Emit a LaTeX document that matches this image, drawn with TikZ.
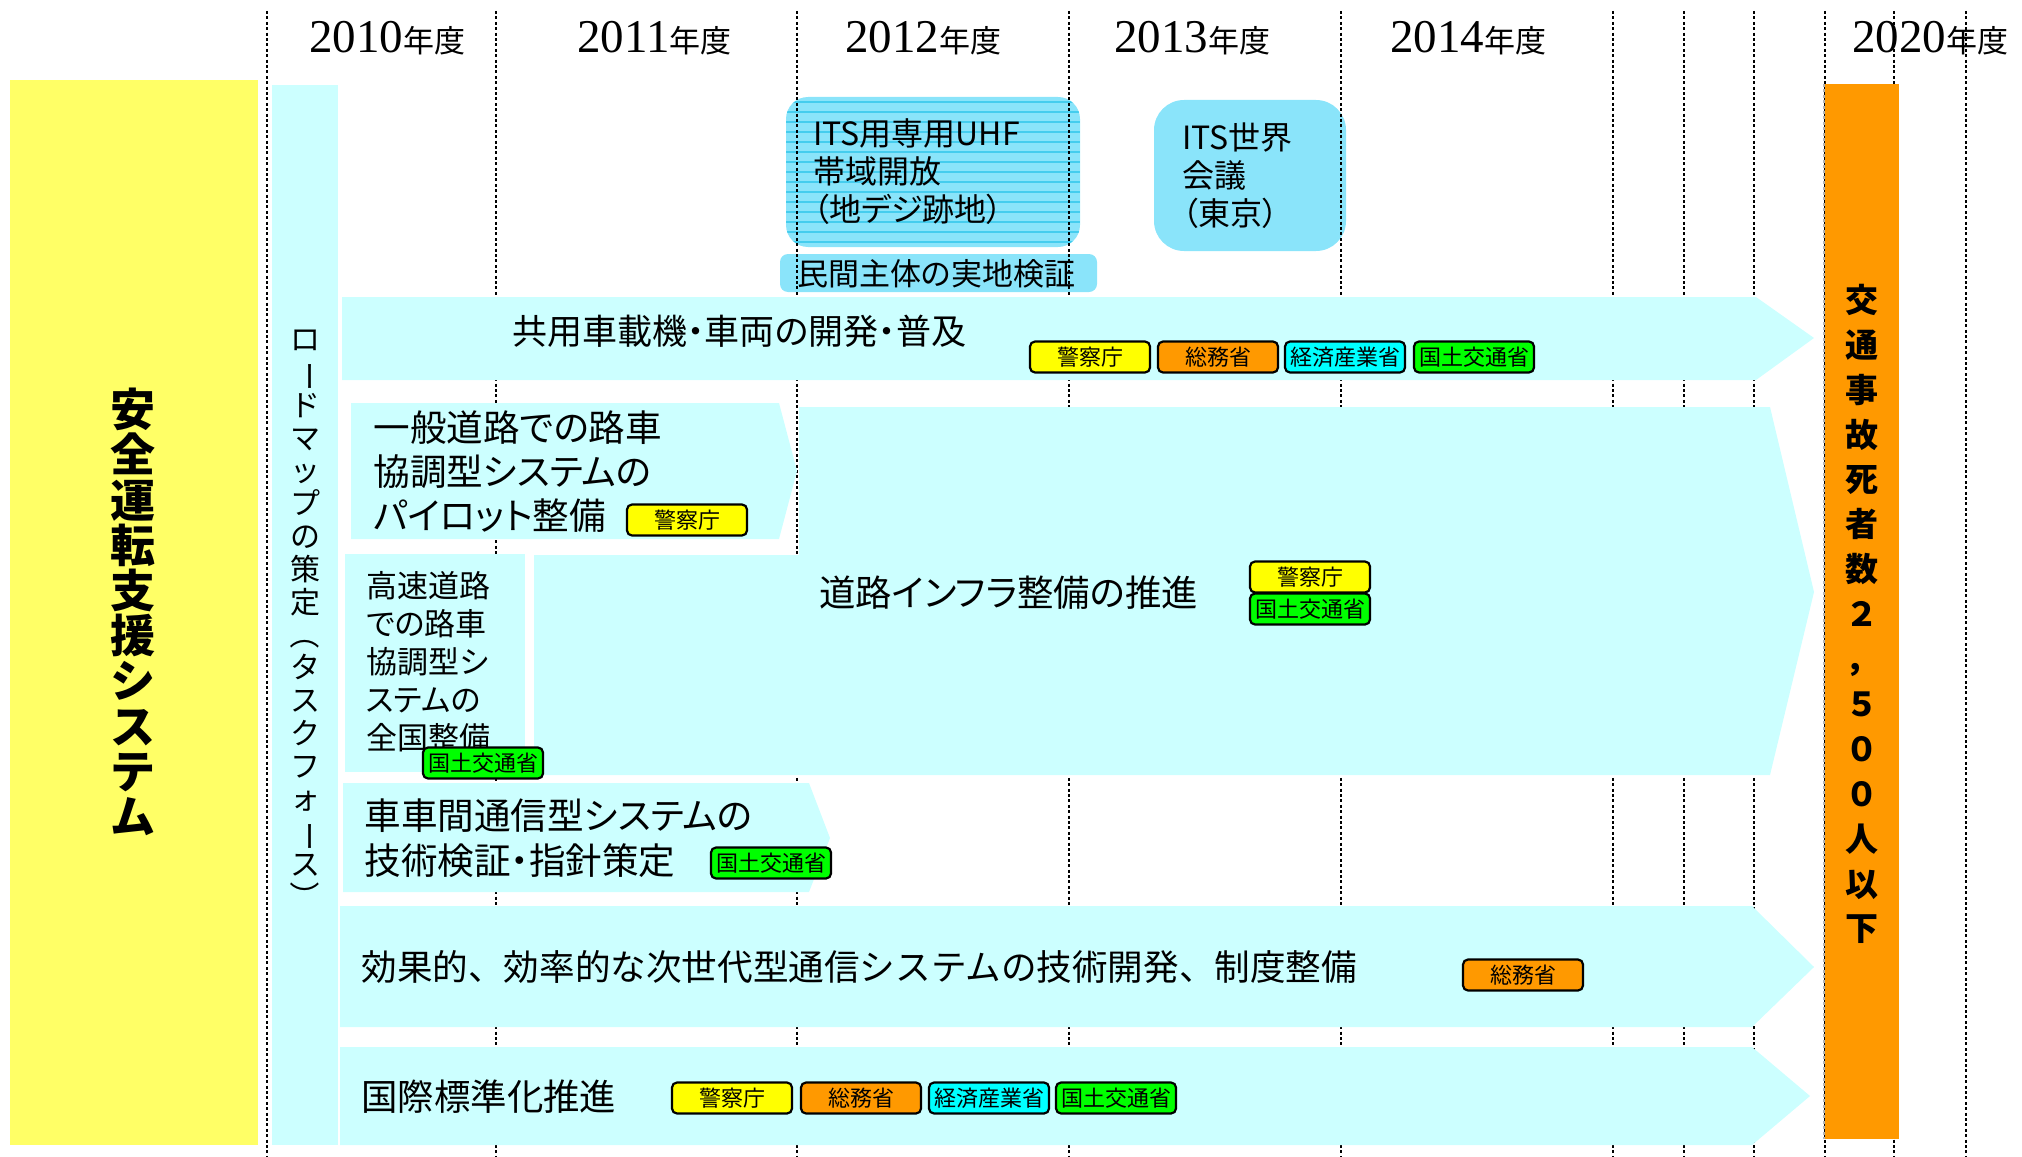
\documentclass[tikz,border=0pt]{standalone}
\usepackage{fontspec}
\usepackage{graphicx}
\setmainfont[RawFeature=+palt]{Noto Sans CJK JP}
\newfontfamily\jpv{Noto Sans CJK JP}
\newfontfamily\serifyr{Liberation Serif}
\definecolor{lyel}{HTML}{FFFF66}
\definecolor{lcyan}{HTML}{CCFFFF}
\definecolor{orng}{HTML}{FF9900}
\definecolor{skyb}{HTML}{8AE4FA}
\definecolor{stripec}{HTML}{45CDEE}
\definecolor{tagy}{HTML}{FFFF00}
\definecolor{tago}{HTML}{FF9900}
\definecolor{tagc}{HTML}{00FFFF}
\definecolor{tagg}{HTML}{00FF00}
\newcommand\yearlabel[1]{{\serifyr\fontsize{23.5}{24}\selectfont #1}{\fontsize{15.5}{16}\selectfont 年度}}
\newcommand\vbarchar{\rotatebox[origin=c]{-90}{ー}}
\newcommand\vlparen{\rotatebox[origin=c]{-90}{（}}
\newcommand\vrparen{\rotatebox[origin=c]{-90}{）}}
\tikzset{
  gridline/.style={line width=1pt, dash pattern=on 1.5pt off 1.2pt},
  tagbox/.style={draw=black, line width=1.1pt, rounded corners=2.5pt, minimum width=60pt, minimum height=15.5pt, inner sep=0pt, font=\jpv\fontsize{11}{11}\selectfont},
  tyel/.style={tagbox, fill=tagy},
  tora/.style={tagbox, fill=tago},
  tcya/.style={tagbox, fill=tagc},
  tgre/.style={tagbox, fill=tagg},
  lbl/.style={anchor=west, inner sep=0pt, align=left},
  yr/.style={anchor=base west, inner sep=0pt},
  vtext/.style={inner sep=0pt, align=center},
}
\begin{document}
\lineskiplimit=-50pt
\begin{tikzpicture}[x=0.5pt,y=-0.5pt]
\useasboundingbox (0,0) rectangle (2022,1156);
% sky-blue event boxes
\fill[skyb, rounded corners=11pt] (786,97) rectangle (1080,247);
\begin{scope}
  \clip[rounded corners=11pt] (786,97) rectangle (1080,247);
  \foreach \yy in {102,112,...,242} \draw[stripec, line width=0.6pt] (786,\yy) -- (1080,\yy);
\end{scope}
\fill[skyb, rounded corners=4pt] (780,254) rectangle (1097,292);
\fill[skyb, rounded corners=15pt] (1154,100) rectangle (1346,251);
% year labels
\node[yr] (y2010) at (309,53) {\yearlabel{2010}};
\node[yr] (y2011) at (577,53) {\yearlabel{2011}};
\node[yr] (y2012) at (845,53) {\yearlabel{2012}};
\node[yr] (y2013) at (1114,53) {\yearlabel{2013}};
\node[yr] (y2014) at (1390,53) {\yearlabel{2014}};
\node[yr] (y2020) at (1852,53) {\yearlabel{2020}};
% grid lines
\foreach \xx in {267,496,797,1069,1341,1613,1684,1754,1825,1894,1966}
  \draw[gridline] (\xx,11) -- (\xx,1156);
% columns
\fill[lyel] (10,80) rectangle (258,1145);
\fill[lcyan] (272,85) rectangle (338,1145);
\fill[orng] (1825,84) rectangle (1899,1139);
\draw[gridline, black!30] (1824,84) -- (1824,1139);
% arrows and boxes
\fill[lcyan] (342,297) -- (1756,297) -- (1814,338) -- (1756,380) -- (342,380) -- cycle;
\fill[lcyan] (351,403) -- (779,403) -- (797,471) -- (779,539) -- (351,539) -- cycle;
\fill[lcyan] (799,407) -- (1770,407) -- (1814,592) -- (1770,775) -- (534,775) -- (534,555) -- (799,555) -- cycle;
\fill[lcyan] (345,554) rectangle (525,772);
\fill[lcyan] (343,783) -- (809,783) -- (830,838) -- (809,892) -- (343,892) -- cycle;
\fill[lcyan] (340,906) -- (1752,906) -- (1814,967) -- (1752,1027) -- (340,1027) -- cycle;
\fill[lcyan] (340,1047) -- (1752,1047) -- (1810,1096) -- (1752,1145) -- (340,1145) -- cycle;
% vertical texts
\node[vtext, font=\jpv\bfseries\fontsize{22.5}{22.6}\selectfont] (tY) at (133,612)
  {安\\全\\運\\転\\支\\援\\シ\\ス\\テ\\ム};
\node[vtext, font=\jpv\fontsize{15}{16.4}\selectfont] (tR) at (305,621)
  {ロ\\\vbarchar\\ド\\マ\\ッ\\プ\\の\\策\\定\\\vlparen\\タ\\ス\\ク\\フ\\ォ\\\vbarchar\\ス\\\vrparen};
\node[vtext, font=\jpv\bfseries\fontsize{16.5}{22.45}\selectfont] (tO) at (1862,614)
  {交\\通\\事\\故\\死\\者\\数\\２\\，\\５\\０\\０\\人\\以\\下};
% event box texts
\node[lbl, font=\fontsize{16}{19}\selectfont] (tU) at (813,172) {ITS用専用UHF\\帯域開放\\（地デジ跡地）};
\node[lbl, font=\fontsize{15.5}{16}\selectfont] (tM) at (797,274) {民間主体の実地検証};
\node[lbl, font=\fontsize{16}{19}\selectfont] (tW) at (1182,176) {ITS世界\\会議\\（東京）};
% arrow texts
\node[lbl, font=\fontsize{17.5}{20}\selectfont] (t1) at (512,331) {共用車載機・車両の開発・普及};
\node[lbl, font=\fontsize{18.3}{22}\selectfont] (tA) at (373,472) {一般道路での路車\\協調型システムの\\パイロット整備};
\node[lbl, font=\fontsize{15.5}{19}\selectfont] (tC) at (366,662) {高速道路\\での路車\\協調型シ\\ステムの\\全国整備};
\node[lbl, font=\fontsize{18.2}{20}\selectfont] (tB) at (819,593) {道路インフラ整備の推進};
\node[lbl, font=\fontsize{18.3}{22.5}\selectfont] (tD) at (364,838) {車車間通信型システムの\\技術検証・指針策定};
\node[lbl, font=\jpv\fontsize{17.8}{20}\selectfont] (tE) at (361,967) {効果的、効率的な次世代型通信システムの技術開発、制度整備};
\node[lbl, font=\fontsize{18.2}{20}\selectfont] (tF) at (361,1097) {国際標準化推進};
% ministry tags
\node[tyel] (g1a) at (1090,357) {警察庁};
\node[tora] (g1b) at (1218,357) {総務省};
\node[tcya] (g1c) at (1345,357) {経済産業省};
\node[tgre] (g1d) at (1474,357) {国土交通省};
\node[tyel] (gA) at (687,520) {警察庁};
\node[tyel] (gBa) at (1310,577) {警察庁};
\node[tgre] (gBb) at (1310,609) {国土交通省};
\node[tgre] (gC) at (483,763) {国土交通省};
\node[tgre] (gD) at (771,863) {国土交通省};
\node[tora] (gE) at (1523,975) {総務省};
\node[tyel] (gFa) at (732,1098) {警察庁};
\node[tora] (gFb) at (861,1098) {総務省};
\node[tcya] (gFc) at (989,1098) {経済産業省};
\node[tgre] (gFd) at (1116,1098) {国土交通省};
\end{tikzpicture}
\end{document}
